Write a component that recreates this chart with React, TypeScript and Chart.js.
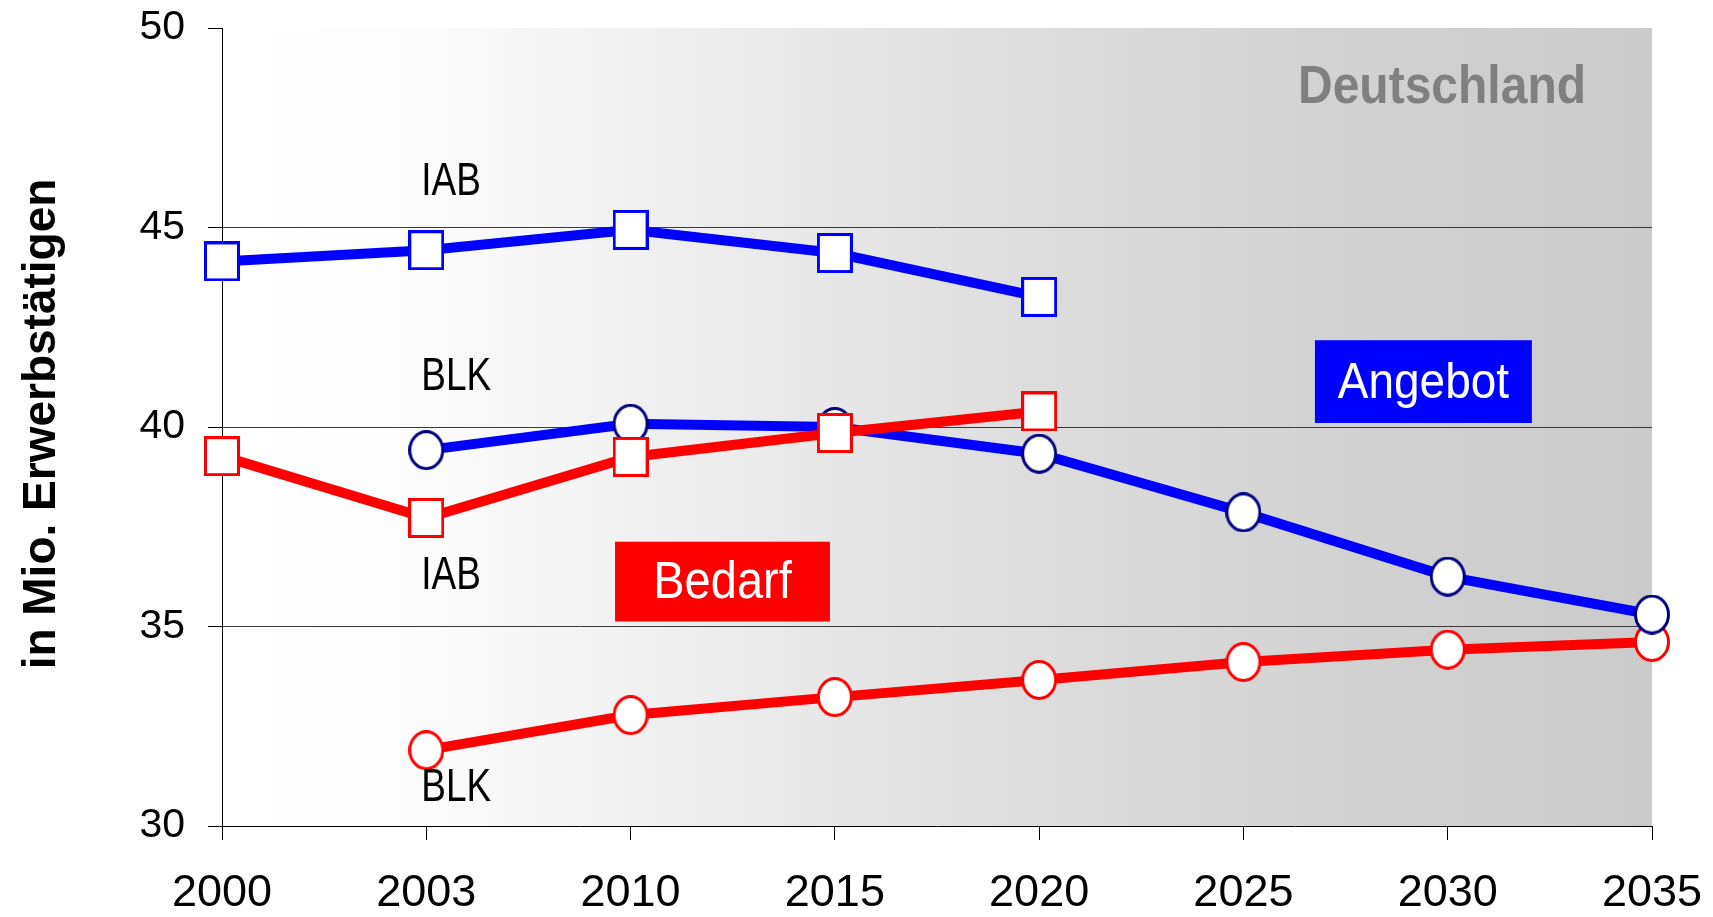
import React, { useEffect, useRef } from 'react';
import { Chart, registerables } from 'chart.js';

Chart.register(...registerables);

// ---- data ----
const categories = ['2000', '2003', '2010', '2015', '2020', '2025', '2030', '2035'];
const angebotIAB = [44.15, 44.43, 44.94, 44.36, 43.26, null, null, null];
const angebotBLK = [null, 39.42, 40.08, 40.0, 39.33, 37.86, 36.25, 35.3];
const bedarfIAB = [39.27, 37.72, 39.25, 39.85, 40.39, null, null, null];
const bedarfBLK = [null, 31.9, 32.78, 33.23, 33.66, 34.11, 34.42, 34.61];
const yMin = 30;
const yMax = 50;
const yStep = 5;

const seriesNotes = ['IAB', 'BLK', 'IAB', 'BLK'];
const seriesNoteValues = [45.825, 40.925, 35.95, 30.625];

const FONT = "'Liberation Sans', Arial, Helvetica, sans-serif";

function makeMarker(kind: 'rect' | 'circle', color: string): HTMLCanvasElement {
  const w = kind === 'rect' ? 36 : 36;
  const h = 40;
  const c = document.createElement('canvas');
  c.width = w;
  c.height = h;
  const ctx = c.getContext('2d')!;
  const lw = 3;
  ctx.fillStyle = '#ffffff';
  ctx.strokeStyle = color;
  ctx.lineWidth = lw;
  if (kind === 'rect') {
    ctx.fillRect(lw / 2, lw / 2, w - lw, h - lw);
    ctx.strokeRect(lw / 2, lw / 2, w - lw, h - lw);
  } else {
    ctx.beginPath();
    ctx.ellipse(w / 2, h / 2, w / 2 - lw / 2, h / 2 - lw / 2, 0, 0, Math.PI * 2);
    ctx.fill();
    ctx.stroke();
  }
  return c;
}

function drawText(
  ctx: CanvasRenderingContext2D,
  text: string,
  x: number,
  y: number,
  font: string,
  color: string,
  align: CanvasTextAlign,
  sx = 1,
  sy = 1
) {
  ctx.save();
  ctx.translate(x, y);
  ctx.scale(sx, sy);
  ctx.font = font;
  ctx.fillStyle = color;
  ctx.textAlign = align;
  ctx.textBaseline = 'alphabetic';
  ctx.fillText(text, 0, 0);
  ctx.restore();
}

const backgroundPlugin = {
  id: 'bgGradient',
  beforeDraw(chart: any) {
    const { ctx, chartArea } = chart;
    const g = ctx.createLinearGradient(chartArea.left, 0, chartArea.right, 0);
    g.addColorStop(0, '#ffffff');
    g.addColorStop(0.12, '#fdfdfd');
    g.addColorStop(0.55, '#dedede');
    g.addColorStop(0.78, '#d2d2d2');
    g.addColorStop(1, '#cbcbcb');
    ctx.save();
    ctx.fillStyle = g;
    ctx.fillRect(chartArea.left, chartArea.top, chartArea.right - chartArea.left, chartArea.bottom - chartArea.top);
    ctx.restore();
  },
};

const annotationPlugin = {
  id: 'annotations',
  afterDatasetsDraw(chart: any) {
    const { ctx } = chart;
    const xs = chart.scales.x;
    const ys = chart.scales.y;
    const px = (i: number) => xs.getPixelForValue(i);
    const py = (v: number) => ys.getPixelForValue(v);

    // series notes next to 2003
    seriesNotes.forEach((t, i) => {
      drawText(ctx, t, px(1) - 5, py(seriesNoteValues[i]), `43px ${FONT}`, '#000000', 'left', 0.86, 1.08);
    });

    // boxes
    const boxes = [
      { text: 'Angebot', x0: 5.35, x1: 6.412, y0: 42.175, y1: 40.1, base: 40.725, color: '#0000ff', size: 46 },
      { text: 'Bedarf', x0: 1.924, x1: 2.976, y0: 37.125, y1: 35.125, base: 35.725, color: '#ff0000', size: 47 },
    ];
    boxes.forEach((b) => {
      const l = px(b.x0);
      const r = px(b.x1);
      const t = py(b.y0);
      const bt = py(b.y1);
      ctx.save();
      ctx.fillStyle = b.color;
      ctx.fillRect(l, t, r - l, bt - t);
      ctx.restore();
      drawText(ctx, b.text, (l + r) / 2, py(b.base), `${b.size}px ${FONT}`, '#ffffff', 'center', 1, 1.1);
    });

    // Deutschland
    drawText(ctx, 'Deutschland', px(5.267), py(48.125), `bold 48px ${FONT}`, '#808080', 'left', 1, 1.1);

    // y-axis title
    ctx.save();
    ctx.translate(55, (chart.chartArea.top + chart.chartArea.bottom) / 2 - 3);
    ctx.rotate(-Math.PI / 2);
    ctx.font = `bold 46px ${FONT}`;
    ctx.fillStyle = '#000000';
    ctx.textAlign = 'center';
    ctx.textBaseline = 'alphabetic';
    ctx.fillText('in Mio. Erwerbstätigen', 0, 0);
    ctx.restore();
  },
};

export default function App() {
  const ref = useRef<HTMLCanvasElement | null>(null);

  useEffect(() => {
    if (!ref.current) return;
    const blueRect = makeMarker('rect', '#0000ff');
    const redRect = makeMarker('rect', '#ff0000');
    const navyCircle = makeMarker('circle', '#000080');
    const redCircle = makeMarker('circle', '#ff0000');

    const common = {
      borderWidth: 10,
      tension: 0,
      fill: false,
      spanGaps: false,
      clip: false as any,
      pointRadius: 18,
      pointHoverRadius: 18,
    };

    const chart = new Chart(ref.current, {
      type: 'line',
      data: {
        labels: categories,
        datasets: [
          { ...common, label: 'Angebot IAB', data: angebotIAB, borderColor: '#0000ff', pointStyle: blueRect as any, order: 3 },
          { ...common, label: 'Bedarf BLK', data: bedarfBLK, borderColor: '#ff0000', pointStyle: redCircle as any, order: 2 },
          { ...common, label: 'Angebot BLK', data: angebotBLK, borderColor: '#0000ff', pointStyle: navyCircle as any, order: 1 },
          { ...common, label: 'Bedarf IAB', data: bedarfIAB, borderColor: '#ff0000', pointStyle: redRect as any, order: 0 },
        ],
      },
      options: {
        animation: false,
        responsive: false,
        devicePixelRatio: 1,
        layout: { padding: { top: 26, right: 61, bottom: 0, left: 0 } },
        plugins: { legend: { display: false }, tooltip: { enabled: false } },
        events: [],
        scales: {
          x: {
            type: 'category',
            offset: false,
            grid: { drawOnChartArea: false, drawTicks: true, tickLength: 14, tickColor: '#000000', tickWidth: 1 },
            border: { display: true, color: '#000000', width: 1 },
            ticks: { color: '#000000', font: { family: FONT, size: 45 }, padding: 27, maxRotation: 0, autoSkip: false },
            afterFit: (s: any) => {
              s.height = 91;
              s.paddingLeft = 0;
              s.paddingRight = 0;
            },
          },
          y: {
            type: 'linear',
            min: yMin,
            max: yMax,
            ticks: { stepSize: yStep, color: '#000000', font: { family: FONT, size: 41 }, padding: 23 },
            grid: {
              color: (c: any) => (c.tick && (c.tick.value === yMax || c.tick.value === yMin) ? 'rgba(0,0,0,0)' : '#3a3a3a'),
              lineWidth: 1,
              tickLength: 14,
              tickColor: '#000000',
              tickWidth: 1,
            },
            border: { display: true, color: '#000000', width: 1 },
            afterFit: (s: any) => {
              s.width = 222;
              s.paddingTop = 0;
              s.paddingBottom = 0;
            },
          },
        },
      },
      plugins: [backgroundPlugin, annotationPlugin],
    });
    return () => chart.destroy();
  }, []);

  return (
    <div style={{ position: 'fixed', left: 0, top: 0, width: 1713, height: 917, background: '#ffffff' }}>
      <canvas ref={ref} width={1713} height={917} style={{ display: 'block', width: 1713, height: 917 }} />
    </div>
  );
}
